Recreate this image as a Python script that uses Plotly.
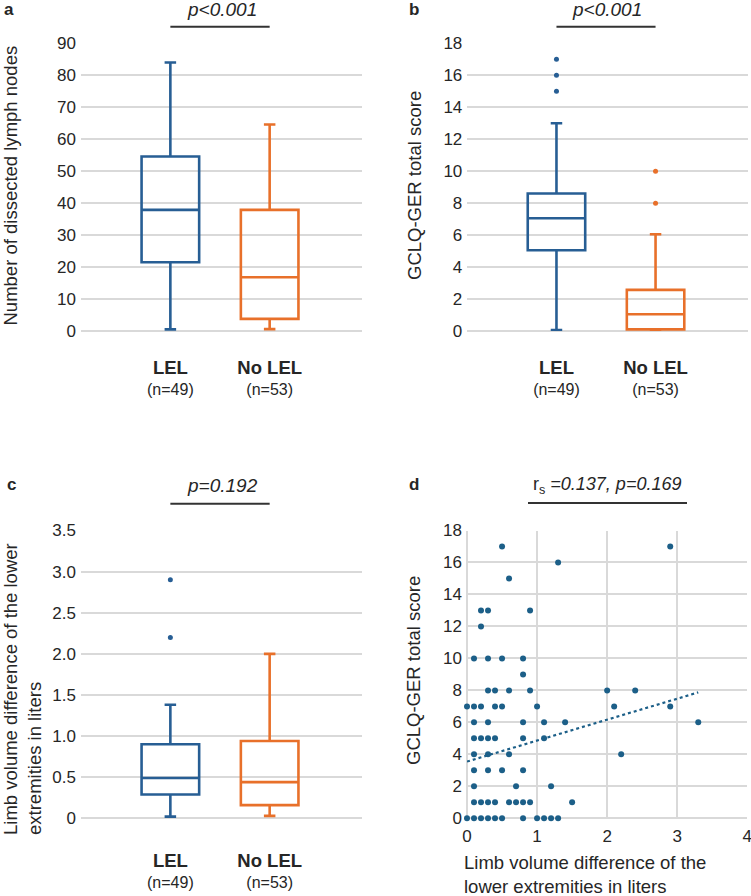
import numpy as np
import plotly.graph_objects as go

W, H = 751, 896
FONT = "Liberation Sans, Arial, sans-serif"
BLUE = "#275E94"
ORANGE = "#E8702A"
DOT = "#1C5F88"
GRID = "#D9D9D9"

groups = ["LEL", "No LEL"]
group_n = ["(n=49)", "(n=53)"]

# Panel a: dissected lymph nodes
a_q1 = [21.5, 3.8]
a_med = [37.9, 16.8]
a_q3 = [54.6, 37.9]
a_low = [0.5, 0.6]
a_high = [84.0, 64.6]

# Panel b: GCLQ-GER total score
b_q1 = [5.05, 0.1]
b_med = [7.05, 1.05]
b_q3 = [8.6, 2.57]
b_low = [0.06, 0.05]
b_high = [13.0, 6.05]
b_out_lel = [17, 16, 15]
b_out_nolel = [10, 8]

# Panel c: limb volume difference
c_q1 = [0.29, 0.16]
c_med = [0.49, 0.44]
c_q3 = [0.90, 0.94]
c_low = [0.02, 0.03]
c_high = [1.38, 2.0]
c_out_lel = [2.9, 2.2]

# Panel d: scatter, volume difference vs GCLQ-GER score
d_x = [0.0, 0.0,
       0.1, 0.1, 0.1, 0.1, 0.1, 0.1, 0.1, 0.1, 0.1,
       0.2, 0.2, 0.2, 0.2, 0.2, 0.2,
       0.3, 0.3, 0.3, 0.3, 0.3, 0.3, 0.3, 0.3, 0.3,
       0.4, 0.4, 0.4, 0.4, 0.4,
       0.5, 0.5, 0.5, 0.5, 0.5,
       0.6, 0.6, 0.6, 0.6,
       0.7, 0.7,
       0.8, 0.8, 0.8, 0.8, 0.8, 0.8, 0.8,
       0.9, 0.9, 0.9,
       1.0, 1.0,
       1.1, 1.1, 1.1,
       1.2, 1.2,
       1.3, 1.3,
       1.4, 1.5, 2.0, 2.1, 2.2, 2.4,
       2.9, 2.9, 3.3]
d_y = [7, 0,
       10, 7, 6, 5, 4, 3, 2, 1, 0,
       13, 12, 7, 5, 1, 0,
       13, 10, 8, 6, 5, 4, 3, 1, 0,
       8, 7, 5, 1, 0,
       17, 10, 7, 3, 0,
       15, 8, 4, 1,
       2, 1,
       10, 9, 6, 5, 3, 1, 0,
       13, 8, 1,
       7, 0,
       6, 5, 0,
       2, 0,
       16, 0,
       6, 1, 8, 7, 4, 8,
       17, 7, 6]

# Linear trendline of panel d (many points overlap)
trend_intercept = 3.55
trend_slope = 1.31

a_ticks = list(range(0, 91, 10))
b_ticks = list(range(0, 19, 2))
c_ticks = [0, 0.5, 1.0, 1.5, 2.0, 2.5, 3.0, 3.5]
c_ticklabels = ["0", "0.5", "1.0", "1.5", "2.0", "2.5", "3.0", "3.5"]
d_xticks = [0, 1, 2, 3, 4]
d_yticks = list(range(0, 19, 2))


def X(px):
    return px / W


def Y(py):
    return 1 - py / H


fig = go.Figure()

cat_text = [f"<span style='font-size:18.5px'><b>{g}</b></span><br>{n}" for g, n in zip(groups, group_n)]


def add_boxes(xa, ya, q1, med, q3, low, high):
    for i, (g, col) in enumerate(zip(groups, [BLUE, ORANGE])):
        fig.add_trace(go.Box(
            x=[g], q1=[q1[i]], median=[med[i]], q3=[q3[i]],
            lowerfence=[low[i]], upperfence=[high[i]],
            boxpoints=False, width=0.58, whiskerwidth=0.2,
            fillcolor="rgba(255,255,255,0)", line=dict(color=col, width=2.6),
            xaxis=xa, yaxis=ya, showlegend=False, hoverinfo="skip"))


def add_out(xa, ya, g, vals, col):
    fig.add_trace(go.Scatter(
        x=[g] * len(vals), y=vals, mode="markers",
        marker=dict(color=col, size=5), xaxis=xa, yaxis=ya,
        showlegend=False, hoverinfo="skip", cliponaxis=False))


add_boxes("x", "y", a_q1, a_med, a_q3, a_low, a_high)
add_boxes("x2", "y2", b_q1, b_med, b_q3, b_low, b_high)
add_out("x2", "y2", "LEL", b_out_lel, BLUE)
add_out("x2", "y2", "No LEL", b_out_nolel, ORANGE)
add_boxes("x3", "y3", c_q1, c_med, c_q3, c_low, c_high)
add_out("x3", "y3", "LEL", c_out_lel, BLUE)

fig.add_trace(go.Scatter(
    x=d_x, y=d_y, mode="markers", marker=dict(color=DOT, size=6),
    xaxis="x4", yaxis="y4", showlegend=False, hoverinfo="skip", cliponaxis=False))

tx = np.array([min(d_x), max(d_x)])
fig.add_trace(go.Scatter(
    x=tx, y=trend_intercept + trend_slope * tx, mode="lines",
    line=dict(color=DOT, width=2.2, dash="dot"),
    xaxis="x4", yaxis="y4", showlegend=False, hoverinfo="skip"))

tickfont = dict(family=FONT, size=17, color="#262626")


def cat_axis(standoff):
    return dict(type="category", range=[-0.9, 1.93], tickvals=groups, ticktext=cat_text,
                showgrid=False, zeroline=False, showline=False, ticks="",
                tickfont=dict(family=FONT, size=16, color="#262626"),
                ticklabelstandoff=standoff, automargin=False)


def yax(domain, rng, tv, tt=None):
    d = dict(domain=domain, range=rng, tickvals=tv, showgrid=True, gridcolor=GRID,
             gridwidth=1.6, zeroline=True, zerolinecolor=GRID, zerolinewidth=1.6,
             showline=False, ticks="", tickfont=tickfont, ticklabelstandoff=4,
             automargin=False, ticklabeloverflow="allow")
    if tt is not None:
        d["ticktext"] = tt
    return d


top_dom = [Y(331), Y(43.3)]
bot_dom = [Y(818.3), Y(530.5)]

fig.update_layout(
    width=W, height=H, margin=dict(l=0, r=0, t=0, b=0, autoexpand=False),
    paper_bgcolor="white", plot_bgcolor="white",
    font=dict(family=FONT, color="#262626"),
    xaxis=dict(domain=[X(81), X(362)], anchor="y", **cat_axis(26)),
    yaxis=dict(anchor="x", **yax(top_dom, [0, 90], a_ticks)),
    xaxis2=dict(domain=[X(467.3), X(747.7)], anchor="y2", **cat_axis(26)),
    yaxis2=dict(anchor="x2", **yax(top_dom, [0, 18], b_ticks)),
    xaxis3=dict(domain=[X(81), X(362)], anchor="y3", **cat_axis(32)),
    yaxis3=dict(anchor="x3", **yax(bot_dom, [0, 3.5], c_ticks, c_ticklabels)),
    xaxis4=dict(domain=[X(467), X(747.3)], anchor="y4", range=[0, 4], tickvals=d_xticks,
                showgrid=True, gridcolor=GRID, gridwidth=1.6, zeroline=True,
                zerolinecolor=GRID, zerolinewidth=1.6, showline=False, ticks="",
                tickfont=tickfont, ticklabelstandoff=6, automargin=False,
                ticklabeloverflow="allow"),
    yaxis4=dict(anchor="x4", **yax(bot_dom, [0, 18], d_yticks)),
)

ann = []


def text(x, y, s, size=17, **kw):
    d = dict(x=X(x), y=Y(y), xref="paper", yref="paper", text=s, showarrow=False,
             font=dict(family=FONT, size=size, color="#262626"), xanchor="center",
             yanchor="middle")
    d.update(kw)
    ann.append(d)


# panel letters
text(9, 9, "<b>a</b>", 17)
text(414, 9, "<b>b</b>", 17)
text(11, 484, "<b>c</b>", 17)
text(414, 484, "<b>d</b>", 17)

# p-values
text(222, 9, "<i>p&lt;0.001</i>", 19)
text(607, 9, "<i>p&lt;0.001</i>", 19)
text(222, 485, "<i>p=0.192</i>", 19)
text(607, 485, "r<sub>s</sub> <i>=0.137, p=0.169</i>", 18)

# y-axis titles
text(9.5, 186, "Number of dissected lymph nodes", 18.5, textangle=-90)
text(414, 186, "GCLQ-GER total score", 18.5, textangle=-90)
text(22, 689, "Limb volume difference of the lower<br>extremities in liters", 18.5,
     textangle=-90, align="left")
text(413, 671, "GCLQ-GER total score", 18.5, textangle=-90)

# x-axis title panel d
text(462, 874, "Limb volume difference of the<br>lower extremities in liters", 18.5,
     xanchor="left", align="left")

fig.update_layout(annotations=ann)

shapes = []
for xa in ["x", "x2"]:
    shapes.append(dict(type="line", xref=xa, yref="paper", x0=0, x1=1, y0=Y(26.7), y1=Y(26.7),
                       line=dict(color="#333333", width=2)))
shapes.append(dict(type="line", xref="x3", yref="paper", x0=0, x1=1, y0=Y(503.7), y1=Y(503.7),
                   line=dict(color="#333333", width=2)))
shapes.append(dict(type="line", xref="paper", yref="paper", x0=X(528), x1=X(687), y0=Y(503),
                   y1=Y(503), line=dict(color="#333333", width=2)))
fig.update_layout(shapes=shapes)

fig.write_html(
    "out.html",
    config={"displayModeBar": False},
    post_script="document.body.style.margin='0';document.body.style.overflow='hidden';",
)
